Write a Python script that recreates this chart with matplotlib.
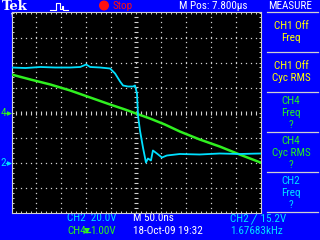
import matplotlib
matplotlib.use("Agg")
import matplotlib.pyplot as plt
from matplotlib import font_manager as fm
import numpy as np

# ---------------- data ----------------
time_per_div_ns = 50.0
ch2_volts_per_div = 20.0
ch2_ground_div = -2.0
ch4_volts_per_div = 1.0
ch4_ground_div = 0.0

ch2_time_ns = [-250, -222, -192, -162, -132, -112, -100, -92, -72, -52, -42, -32, -26,
               -16, -6, -2, 2, 4, 8, 14, 20, 24, 30, 34, 42, 52, 62, 88, 128, 168, 208, 250]
ch2_volts = [76.0, 75.6, 76.4, 76.0, 76.0, 76.4, 78.4, 76.4, 76.0, 75.2, 71.2, 64.8, 61.6,
             60.8, 60.8, 61.6, 55.2, 37.6, 25.6, 12.0, 0.0, 3.2, 1.6, 9.6, 7.2, 4.0, 5.6,
             6.8, 6.4, 7.2, 6.8, 7.2]

ch4_time_ns = [-250, -212, -172, -132, -92, -52, -22, 0, 28, 58, 88, 128, 168, 208, 250]
ch4_volts = [1.52, 1.32, 1.12, 0.88, 0.60, 0.32, 0.12, -0.04, -0.24, -0.48, -0.76,
             -1.08, -1.36, -1.68, -2.00]

menu_title = "MEASURE"
menu_items = [["CH1 Off", "Freq"], ["CH1 Off", "Cyc RMS"], ["CH4", "Freq", "?"],
              ["CH4", "Cyc RMS", "?"], ["CH2", "Freq", "?"]]
menu_colors = ["#ffff00", "#ffff00", "#22f022", "#22f022", "#00e0ff"]

# ---------------- fonts ----------------
available = {f.name for f in fm.fontManager.ttflist}
candidates = ["Roboto Condensed", "PT Sans Narrow", "Archivo Narrow", "Liberation Sans Narrow",
              "Fira Sans Condensed", "IBM Plex Sans Condensed", "Open Sans Condensed",
              "Liberation Sans"]
narrow_name = next((c for c in candidates if c in available), "DejaVu Sans")
NARROW = [narrow_name, "DejaVu Sans"]

# ---------------- style ----------------
BLUE = "#0000ff"
CYAN = "#00e0ff"
GREEN = "#30f020"
GRID = "#d0d0d0"
FS = 8.0

fig = plt.figure(figsize=(3.2, 2.4), dpi=100)
fig.patch.set_facecolor(BLUE)

bg = fig.add_axes([0, 0, 1, 1])
bg.set_xlim(0, 320)
bg.set_ylim(240, 0)
bg.axis("off")

ax = fig.add_axes([11.5 / 320, 27.5 / 240, 249 / 320, 200 / 240])
ax.set_facecolor("black")
ax.set_xlim(-5 * time_per_div_ns, 5 * time_per_div_ns)
ax.set_ylim(-4, 4)
for s in ax.spines.values():
    s.set_color(GRID)
    s.set_linewidth(0.8)
ax.set_xticks(np.arange(-250, 251, 50))
ax.set_xticks(np.arange(-250, 251, 10), minor=True)
ax.set_yticks(np.arange(-4, 4.01, 1))
ax.set_yticks(np.arange(-4, 4.01, 0.2), minor=True)
ax.tick_params(which="both", direction="in", length=1.6, width=0.7, color=GRID,
               top=True, right=True, labelbottom=False, labelleft=False)

for k in range(-4, 5):
    if k == 0:
        continue
    ys = np.arange(-4, 4.01, 0.2)
    ax.plot(np.full_like(ys, k * time_per_div_ns), ys, ls="none", marker="s",
            ms=0.9, mew=0, color=GRID, zorder=1)
for j in range(-3, 4):
    if j == 0:
        continue
    xs = np.arange(-250, 251, 10)
    ax.plot(xs, np.full_like(xs, j, dtype=float), ls="none", marker="s",
            ms=0.9, mew=0, color=GRID, zorder=1)
xs = np.arange(-250, 251, 10)
ax.plot(xs, np.zeros_like(xs, dtype=float), ls="none", marker="|", ms=3.0, mew=0.8,
        color=GRID, zorder=1)
ys = np.arange(-4, 4.01, 0.2)
ax.plot(np.zeros_like(ys), ys, ls="none", marker="_", ms=3.0, mew=0.8, color=GRID, zorder=1)

ch4_div = np.array(ch4_volts) / ch4_volts_per_div + ch4_ground_div
ch2_div = np.array(ch2_volts) / ch2_volts_per_div + ch2_ground_div
ax.plot(ch4_time_ns, ch4_div, color=GREEN, lw=1.8, zorder=3)
ax.plot(ch2_time_ns, ch2_div, color=CYAN, lw=1.3, zorder=4)

# ---------------- header ----------------
bg.text(2, 6.5, "Tek", color="white", fontsize=9.5, fontweight="bold",
        family="DejaVu Serif", va="center", ha="left")
icon_x = [50, 52, 53, 55, 56, 56, 59, 60, 60, 62, 62, 63, 63, 68]
icon_y = [10, 10, 10, 10, 10, 3, 3, 3, 9, 9, 6, 6, 10, 10]
bg.plot(icon_x, icon_y, color="white", lw=0.8)
bg.add_patch(plt.Circle((104, 5.5), 4.3, color="#ff1010"))
bg.text(113, 6, "Stop", color="#ff1010", fontsize=FS, family=NARROW, va="center", ha="left")
bg.text(179, 6, "M Pos: 7.800\u00b5s", color="white", fontsize=FS, family=NARROW,
        va="center", ha="left")
bg.text(290, 6, menu_title, color="white", fontsize=FS, family=NARROW, va="center", ha="center")

for i, (items, col) in enumerate(zip(menu_items, menu_colors)):
    y0 = 12 + 40 * i
    bg.plot([267, 318], [y0, y0], color=GRID, lw=0.9)
    if len(items) == 2:
        ys_t = [y0 + 14, y0 + 26]
    else:
        ys_t = [y0 + 8.5, y0 + 20.5, y0 + 32.5]
    for t, yy in zip(items, ys_t):
        bg.text(291, yy, t, color=col, fontsize=FS, family=NARROW, va="center", ha="center")
bg.plot([267, 318], [212, 212], color=GRID, lw=0.9)

bg.text(0.5, 112.5, "4", color=GREEN, fontsize=FS, family=NARROW, va="center", ha="left")
bg.plot([6, 9], [112.5, 112.5], color=GREEN, lw=1)
bg.plot([9], [112.5], marker=">", ms=3.5, color=GREEN, mew=0)
bg.text(0.5, 162.5, "2", color=CYAN, fontsize=FS, family=NARROW, va="center", ha="left")
bg.plot([6, 9], [162.5, 162.5], color=CYAN, lw=1)
bg.plot([9], [162.5], marker=">", ms=3.5, color=CYAN, mew=0)
bg.plot([256, 260], [143, 143], color=CYAN, lw=1)
bg.plot([256.5], [143], marker="<", ms=4, color=CYAN, mew=0)
bg.plot([12, 15.5], [13.5, 17], color="white", lw=1)
bg.plot([12, 14.5], [13.5, 13.5], color="white", lw=1)
bg.plot([12, 12], [13.5, 16], color="white", lw=1)

# ---------------- bottom readout ----------------
bg.text(67, 218, "CH2  20.0V", color=CYAN, fontsize=FS, family=NARROW, va="center", ha="left")
bg.text(133, 218, "M 50.0ns", color="white", fontsize=FS, family=NARROW, va="center", ha="left")
bg.text(230, 218, "CH2 \u2571 15.2V", color=CYAN, fontsize=FS, family=NARROW,
        va="center", ha="left")
bg.text(67, 231.5, "CH4", color=GREEN, fontsize=FS, family=NARROW, va="center", ha="left")
bg.plot([86.5], [231], marker="v", ms=4, color=GREEN, mew=0)
bg.plot([83.5, 89.5], [231.5, 231.5], color=GREEN, lw=0.9)
bg.text(90.5, 231.5, "1.00V", color=GREEN, fontsize=FS, family=NARROW, va="center", ha="left")
bg.text(133, 231.5, "18-Oct-09 19:32", color="white", fontsize=FS, family=NARROW,
        va="center", ha="left")
bg.text(230, 231.5, "1.67683kHz", color=CYAN, fontsize=FS, family=NARROW,
        va="center", ha="left")

fig.savefig("out.png", dpi=100, facecolor=BLUE)
